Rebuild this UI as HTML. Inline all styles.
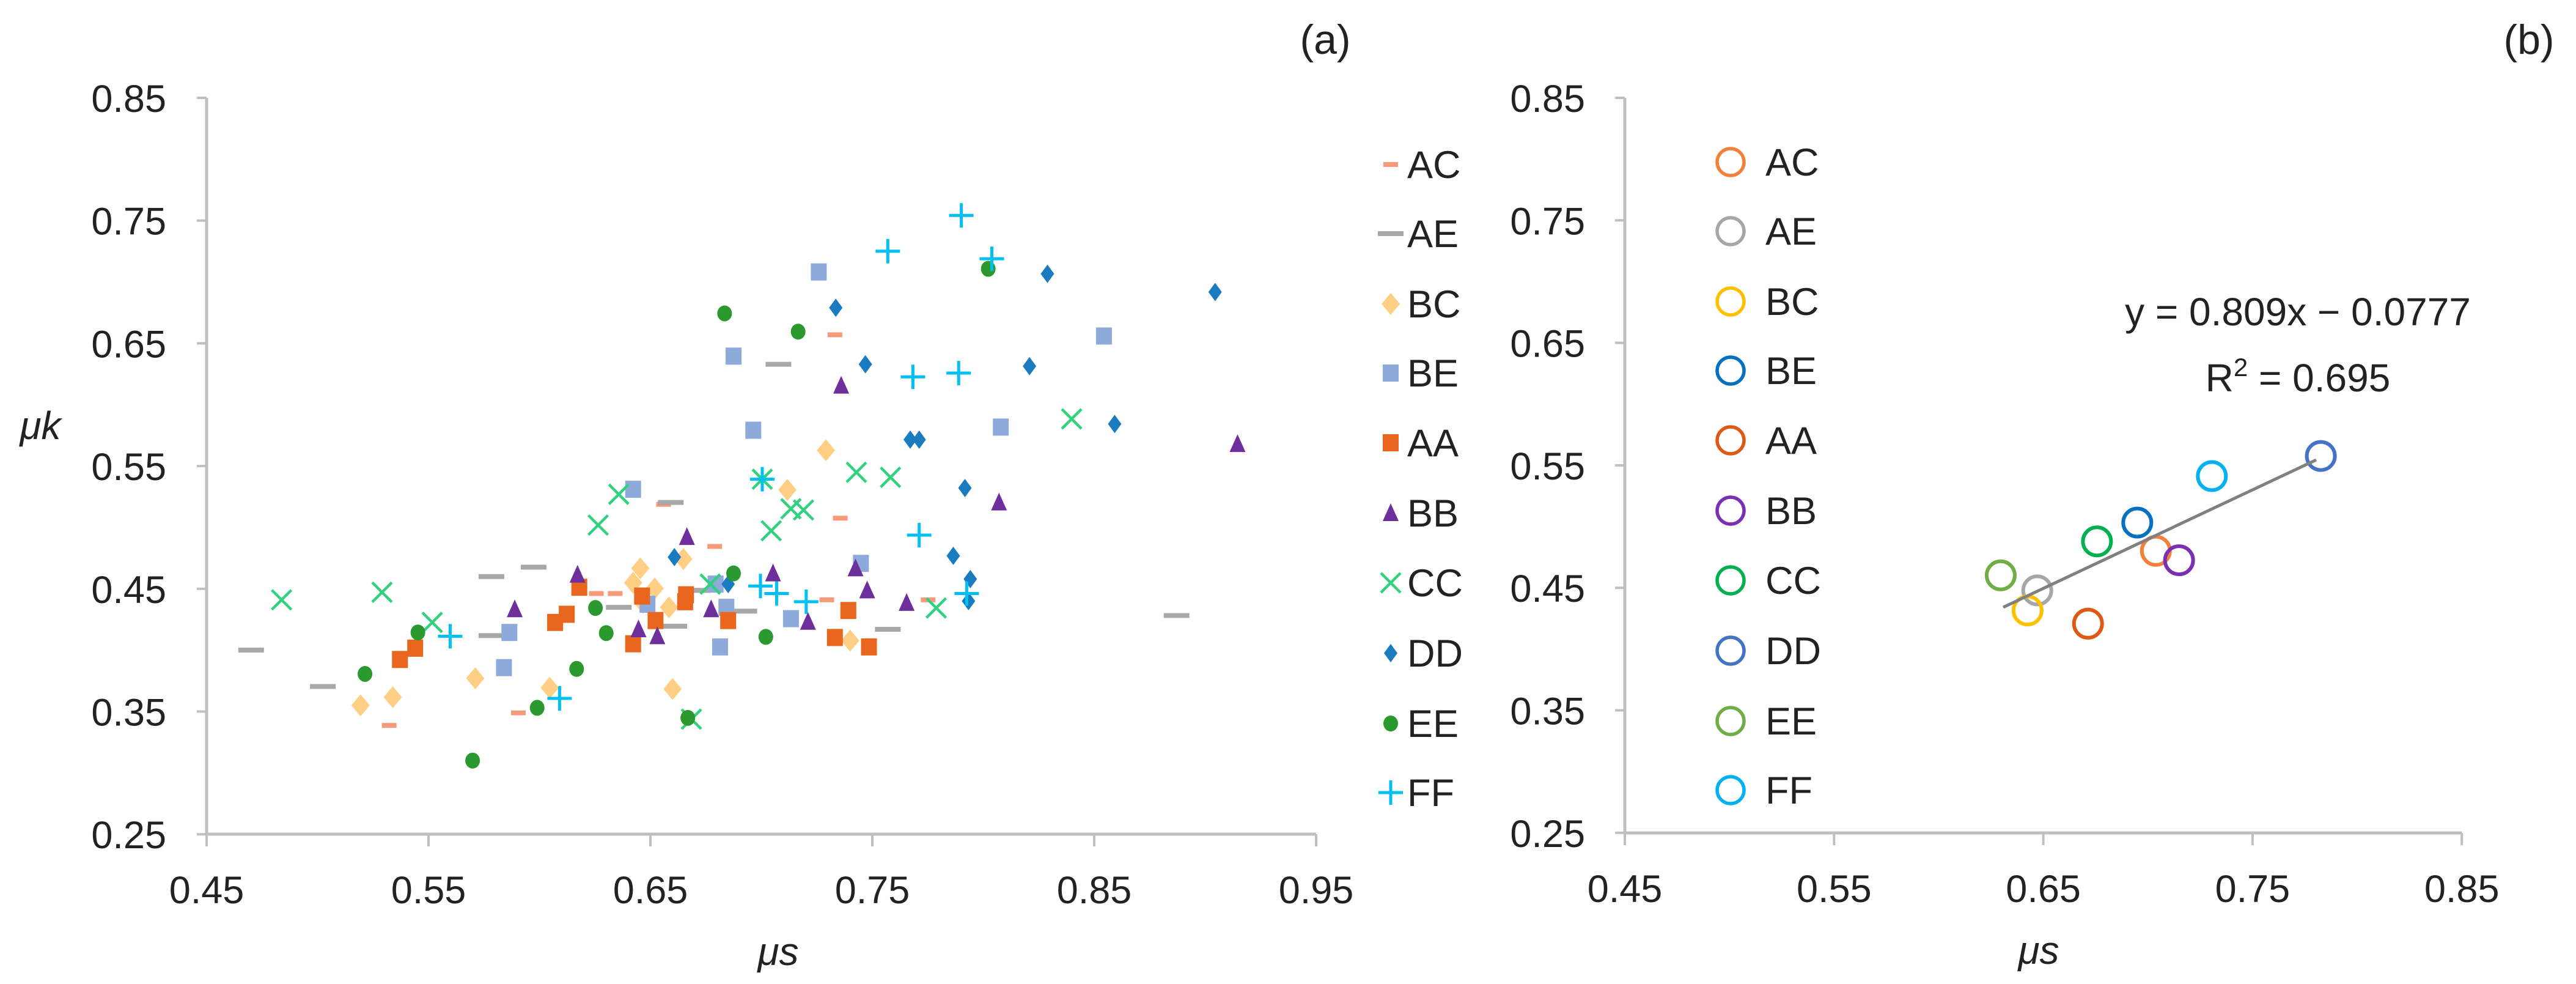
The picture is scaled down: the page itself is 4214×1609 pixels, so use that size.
<!DOCTYPE html>
<html><head><meta charset="utf-8"><style>
html,body{margin:0;padding:0;background:#fff;}
svg{display:block;}
text{font-family:"Liberation Sans",sans-serif;fill:#222;}
</style></head><body>
<svg id="s" width="4214" height="1609" viewBox="0 0 4214 1609" xmlns="http://www.w3.org/2000/svg">
<g stroke="#bfbfbf" stroke-width="5" fill="none">
<line x1="338" y1="160" x2="338" y2="1364"/>
<line x1="338" y1="1364" x2="2153" y2="1364"/>
<line x1="2658" y1="160" x2="2658" y2="1362"/>
<line x1="2658" y1="1362" x2="4027" y2="1362"/>
</g>
<g id="ticks" stroke="#bfbfbf" stroke-width="4"></g>
<g id="lbl" font-size="63" transform=""></g>
<g id="pts"></g>
<text x="2168" y="88" font-size="68" font-family="Liberation Serif" text-anchor="middle">(a)</text>
<text x="4137" y="88" font-size="68" font-family="Liberation Serif" text-anchor="middle">(b)</text>
<text x="66" y="718" font-size="64" font-style="italic" text-anchor="middle">μk</text>
<text x="1273" y="1578" font-size="64" font-style="italic" text-anchor="middle">μs</text>
<text x="3335" y="1576" font-size="64" font-style="italic" text-anchor="middle">μs</text>
<line x1="3277" y1="993" x2="3789" y2="752" stroke="#808080" stroke-width="5"/>
<text x="3759" y="532" font-size="64" text-anchor="middle">y = 0.809x − 0.0777</text>
<text x="3759" y="640" font-size="64" text-anchor="middle">R<tspan font-size="42" dy="-25">2</tspan><tspan dy="25"> = 0.695</tspan></text>
</svg>
<script>
var NS="http://www.w3.org/2000/svg";
function el(p,t,a,txt){var e=document.createElementNS(NS,t);for(var k in a)e.setAttribute(k,a[k]);if(txt!=null)e.textContent=txt;p.appendChild(e);return e;}
var T=document.getElementById('ticks'),L=document.getElementById('lbl'),P=document.getElementById('pts');
var yl=["0.85","0.75","0.65","0.55","0.45","0.35","0.25"];
for(var i=0;i<7;i++){
 var y=160+i*200.7; el(T,'line',{x1:322,y1:y,x2:338,y2:y}); el(L,'text',{x:272,y:y+23,'text-anchor':'end'},yl[i]);
 var y2=160+i*200.3; el(T,'line',{x1:2642,y1:y2,x2:2658,y2:y2}); el(L,'text',{x:2593,y:y2+23,'text-anchor':'end'},yl[i]);
}
var xl=["0.45","0.55","0.65","0.75","0.85","0.95"];
for(var i=0;i<6;i++){var x=338+i*363; el(T,'line',{x1:x,y1:1364,x2:x,y2:1384}); el(L,'text',{x:x,y:1477,'text-anchor':'middle'},xl[i]);}
for(var i=0;i<5;i++){var x=2658+i*342.3; el(T,'line',{x1:x,y1:1362,x2:x,y2:1382}); el(L,'text',{x:x,y:1475,'text-anchor':'middle'},xl[i]);}
function mk(kind,c,x,y){
 switch(kind){
 case 'dashS': el(P,'rect',{x:x-12,y:y-4,width:24,height:8,fill:c});break;
 case 'dashL': el(P,'rect',{x:x-21,y:y-4,width:42,height:8,fill:c});break;
 case 'dia': el(P,'polygon',{points:(x)+','+(y-18)+' '+(x+15)+','+y+' '+x+','+(y+18)+' '+(x-15)+','+y,fill:c});break;
 case 'diaS': el(P,'polygon',{points:(x)+','+(y-15)+' '+(x+11)+','+y+' '+x+','+(y+15)+' '+(x-11)+','+y,fill:c});break;
 case 'sq': el(P,'rect',{x:x-13,y:y-14,width:26,height:28,fill:c});break;
 case 'tri': el(P,'polygon',{points:x+','+(y-16)+' '+(x+13)+','+(y+13)+' '+(x-13)+','+(y+13),fill:c});break;
 case 'x': el(P,'path',{d:'M'+(x-16)+' '+(y-16)+'L'+(x+16)+' '+(y+16)+'M'+(x+16)+' '+(y-16)+'L'+(x-16)+' '+(y+16),stroke:c,'stroke-width':4.5,fill:'none'});break;
 case 'plus': el(P,'path',{d:'M'+(x-20)+' '+y+'L'+(x+20)+' '+y+'M'+x+' '+(y-20)+'L'+x+' '+(y+20),stroke:c,'stroke-width':5,fill:'none'});break;
 case 'cir': el(P,'ellipse',{cx:x,cy:y,rx:12,ry:13,fill:c});break;
 }
}
var S=[
['AC','#f79a7a','dashS',[[931,533],[937,825],[797,870],[740,803],[665,945],[686,945],[922,955],[1035,955],[578,1135],[434,1155],[783,940]]],
['AE','#a8a8a8','dashL',[[280,1035],[360,1093],[548,918],[595,903],[548,1012],[748,800],[868,580],[690,967],[752,997],[830,973],[990,1002],[1312,980],[778,940]]],
['BC','#ffcf86','dia',[[402,1123],[438,1110],[530,1080],[613,1095],[750,1097],[706,928],[714,905],[730,937],[746,967],[762,890],[878,780],[921,717],[948,1020],[717,960]]],
['BE','#8eaadb','sq',[[706,779],[818,567],[840,685],[913,433],[1231,535],[1116,680],[568,1007],[562,1063],[803,1030],[798,930],[810,967],[882,985],[960,897],[722,962]]],
['AA','#e8661e','sq',[[446,1050],[463,1032],[619,991],[632,978],[646,935],[706,1025],[716,949],[731,988],[764,958],[765,947],[812,988],[931,1015],[946,972],[969,1030]]],
['BB','#6d2f9c','tri',[[574,970],[644,915],[712,1002],[733,1013],[766,855],[793,970],[862,913],[901,990],[954,905],[967,940],[1011,960],[938,614],[1114,800],[1380,707]]],
['CC','#33d17f','x',[[314,955],[426,943],[482,991],[667,836],[690,787],[792,930],[850,763],[860,845],[882,810],[896,812],[955,752],[993,760],[1044,968],[1195,667],[771,1145]]],
['DD','#1a7bbf','diaS',[[752,887],[812,930],[932,490],[965,580],[1015,700],[1025,700],[1076,777],[1063,885],[1080,957],[1082,922],[1148,583],[1168,436],[1243,675],[1355,465]]],
['EE','#2b9a2e','cir',[[407,1073],[466,1007],[527,1211],[599,1127],[643,1065],[664,968],[676,1008],[767,1143],[808,499],[818,913],[854,1014],[890,528],[1102,428]]],
['FF','#00c0f2','plus',[[502,1013],[624,1112],[850,763],[848,933],[866,945],[899,958],[990,400],[1025,852],[1018,600],[1069,594],[1072,343],[1106,412],[1078,945]]]
];
var ly=[269,382,497,610,724,839,953,1068,1183,1296];
S.forEach(function(s,i){
 s[3].forEach(function(p){mk(s[2],s[1],p[0]*1.467,p[1]*1.027);});
 mk(s[2],s[1],2275,ly[i]);
 el(L,'text',{x:2302,y:ly[i]+22},s[0]);
});
var R=[['AC','#f4813a',1005,877],['AE','#a6a6a6',846,940],['BC','#ffc000',833,972],['BE','#0070c0',980,832],['AA','#dd5a16',914,993],['BB','#7a30b0',1036,892],['CC','#00b050',926,862],['DD','#4472c4',1226,726],['EE','#70ad47',797,916],['FF','#00b0f0',1080,758]];
R.forEach(function(r,i){
 el(P,'circle',{cx:r[2]*1.2207+2300,cy:r[3]*1.027,r:23,fill:'none',stroke:r[1],'stroke-width':6});
 el(P,'circle',{cx:2831,cy:ly[i]-4,r:22,fill:'none',stroke:r[1],'stroke-width':5.5});
 el(L,'text',{x:2888,y:ly[i]+18},r[0]);
});
</script>
</body></html>
